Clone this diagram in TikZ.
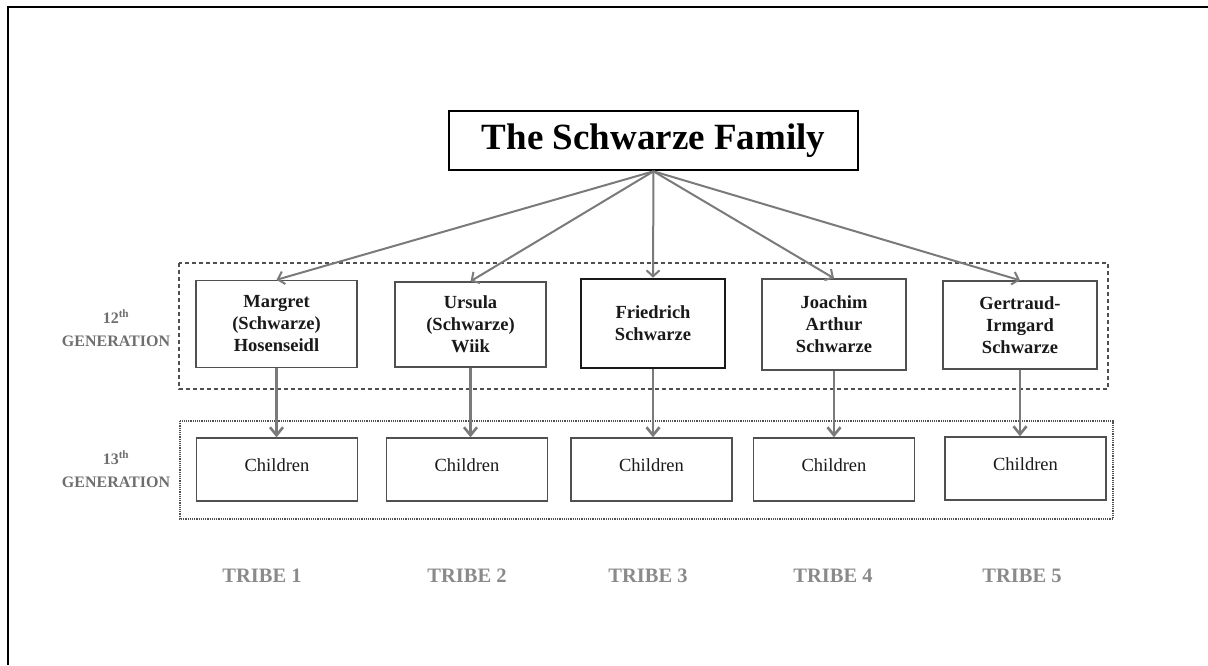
\documentclass[tikz,border=0pt]{standalone}
\usepackage{fontspec}
\setmainfont{Liberation Serif}
\usetikzlibrary{arrows.meta}
\definecolor{arrowgray}{HTML}{7A7A7A}
\definecolor{boxgray}{HTML}{505050}
\definecolor{labgray}{HTML}{6E6E6E}
\definecolor{tribegray}{HTML}{8A8A8A}
\tikzset{
  person/.style={draw=boxgray, line width=1.4pt, align=center, inner sep=0pt,
    font=\fontsize{18.5}{22}\selectfont\bfseries, text=black!90},
  childbox/.style={draw=boxgray, line width=1.4pt, inner xsep=0pt, inner ysep=0pt,
    minimum width=161pt, text height=33pt, text depth=30pt,
    font=\fontsize{18.5}{22}\selectfont, text=black!90},
  genlabel/.style={align=center, text=labgray, font=\fontsize{16}{23}\selectfont\bfseries},
  tribelabel/.style={text=tribegray, font=\fontsize{20.5}{24}\selectfont\bfseries},
  toparrow/.style={draw=arrowgray, line width=2pt, -{Straight Barb[length=6pt,width=13pt,line width=2pt]}},
  downarrow/.style={draw=arrowgray, line width=2.6pt, -{Straight Barb[length=8pt,width=13pt,line width=2.6pt]}},
}
\begin{document}
\begin{tikzpicture}[x=1pt,y=-1pt]
\useasboundingbox (0,0) rectangle (1208,665);
% frame
\draw[line width=2.5pt, black] (1208,7) -- (8,7) -- (8,665);
% group boxes
\draw[draw=boxgray, line width=1.3pt, dash pattern=on 4pt off 3pt] (179,263) rectangle (1108,389);
\draw[draw=boxgray, line width=1.2pt, dash pattern=on 1.2pt off 1pt] (180,421) rectangle (1113,519);
% title
\node[draw=black, line width=2.6pt, minimum width=409pt, minimum height=59pt, inner sep=0pt,
  font=\fontsize{37}{44}\selectfont\bfseries] (title) at (653.5,140.5) {The Schwarze Family};
% 12th generation
\node[person, minimum width=161pt, minimum height=87pt] (m1) at (276.5,324) {Margret\\(Schwarze)\\Hosenseidl};
\node[person, minimum width=151pt, minimum height=85pt] (m2) at (470.5,324.5) {Ursula\\(Schwarze)\\Wiik};
\node[person, draw=black!90, line width=2.6pt, minimum width=144pt, minimum height=89pt] (m3) at (653,323.5) {Friedrich\\Schwarze};
\node[person, minimum width=144pt, minimum height=91pt] (m4) at (834,324.5) {Joachim\\Arthur\\Schwarze};
\node[person, minimum width=154pt, minimum height=88pt] (m5) at (1020,325) {Gertraud-\\Irmgard\\Schwarze};
% 13th generation
\node[childbox] (c1) at (277,469.5) {Children};
\node[childbox] (c2) at (467,469.5) {Children};
\node[childbox] (c3) at (651.5,469.5) {Children};
\node[childbox] (c4) at (834,469.5) {Children};
\node[childbox] (c5) at (1025.5,468.5) {Children};
% arrows
\foreach \i in {1,...,5}{
  \draw[toparrow] (title.south) -- (m\i.north);
  \draw[downarrow] (m\i.south) -- (m\i.south |- c\i.north);
}
% generation labels
\node[genlabel] (g12) at (116,328) {12\textsuperscript{th}\\GENERATION};
\node[genlabel] (g13) at (116,469) {13\textsuperscript{th}\\GENERATION};
% tribes
\node[tribelabel] (t1) at (262,576) {TRIBE 1};
\node[tribelabel] (t2) at (467,576) {TRIBE 2};
\node[tribelabel] (t3) at (648,576) {TRIBE 3};
\node[tribelabel] (t4) at (833,576) {TRIBE 4};
\node[tribelabel] (t5) at (1022,576) {TRIBE 5};
\end{tikzpicture}
\end{document}
